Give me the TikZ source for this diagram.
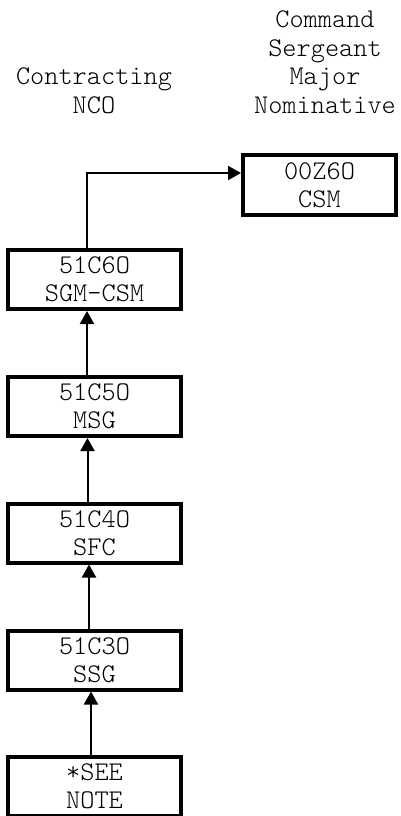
\documentclass[tikz,border=0pt]{standalone}
\usepackage{fontspec}
\setmonofont{Latin Modern Mono Light}
\usetikzlibrary{arrows.meta}
\tikzset{
  rank/.style={draw, line width=4pt, minimum width=173pt, minimum height=59pt, inner sep=0pt,
    align=center, font=\ttfamily\fontsize{27}{28}\selectfont},
  head/.style={inner sep=0pt, align=center, anchor=south, font=\ttfamily\fontsize{27}{28.7}\selectfont},
  arr/.style={line width=2pt, -{Triangle[length=13pt,width=14pt]}}
}
\begin{document}
\begin{tikzpicture}[x=1pt,y=1pt]
\useasboundingbox (0,0) rectangle (400,-816);
\clip (0,0) rectangle (400,-816);
\node[head] (hl) at (94,-114) {Contracting\\NCO};
\node[head] (hr) at (325,-114) {Command\\Sergeant\\Major\\Nominative};
\node[rank, minimum width=153pt, minimum height=60pt] (csm) at (319.5,-185) {00Z6O\\CSM};
\node[rank] (c6) at (94.5,-279.5) {51C6O\\SGM-CSM};
\node[rank] (c5) at (94.5,-406.5) {51C5O\\MSG};
\node[rank] (c4) at (94.5,-533) {51C4O\\SFC};
\node[rank] (c3) at (94.5,-660) {51C3O\\SSG};
\node[rank] (note) at (94.5,-786.5) {*SEE\\NOTE};
\draw[arr] ([xshift=-8pt]c6.north) |- ([yshift=12pt]csm.west);
\draw[arr] ([xshift=-7.5pt]c5.north) -- ([xshift=-7.5pt]c6.south);
\draw[arr] ([xshift=-7pt]c4.north) -- ([xshift=-7pt]c5.south);
\draw[arr] ([xshift=-5.5pt]c3.north) -- ([xshift=-5.5pt]c4.south);
\draw[arr] ([xshift=-3.5pt]note.north) -- ([xshift=-3.5pt]c3.south);
\end{tikzpicture}
\end{document}
